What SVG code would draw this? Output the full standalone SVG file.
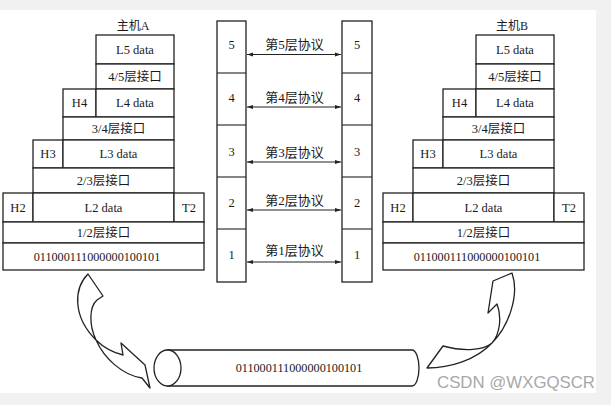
<svg xmlns="http://www.w3.org/2000/svg" width="611" height="405" viewBox="0 0 611 405">
<style>
.b{fill:#fff;stroke:#222;stroke-width:1.3}
.t{font-family:"Liberation Serif","Noto Sans CJK SC",serif;font-size:12.5px;fill:#1a1a1a;text-anchor:middle;dominant-baseline:central}
.bits{font-size:12.2px}
.p{font-size:13px}
.h{font-family:"Liberation Serif","Noto Sans CJK SC",serif;font-size:12px;fill:#1a1a1a;text-anchor:middle}
.c{fill:none;stroke:#222;stroke-width:1.1}
.sh{fill:#fff;stroke:#222;stroke-width:1.3;stroke-linejoin:round}
.wm{font-family:"Liberation Sans",Arial,sans-serif;font-size:17px;fill:#a8a8a8}
</style>
<defs>
<marker id="ah" viewBox="0 0 10 10" refX="10" refY="5" markerWidth="8" markerHeight="6" orient="auto-start-reverse" markerUnits="userSpaceOnUse">
<path d="M0,1.5 L10,5 L0,8.5 Z" fill="#222"/>
</marker>
<g id="stack">
<rect class="b" x="96" y="35" width="78" height="29"/>
<text class="t" x="135" y="50">L5 data</text>
<rect class="b" x="96" y="64" width="78" height="25"/>
<text class="t" x="135" y="76.5">4/5层接口</text>
<rect class="b" x="63" y="89" width="33" height="28"/>
<text class="t" x="79.5" y="103">H4</text>
<rect class="b" x="96" y="89" width="78" height="28"/>
<text class="t" x="135" y="103">L4 data</text>
<rect class="b" x="63" y="117" width="111" height="23"/>
<text class="t" x="118.5" y="128.5">3/4层接口</text>
<rect class="b" x="33" y="140" width="30" height="28"/>
<text class="t" x="48" y="154">H3</text>
<rect class="b" x="63" y="140" width="111" height="28"/>
<text class="t" x="118.5" y="154">L3 data</text>
<rect class="b" x="33" y="168" width="141" height="25"/>
<text class="t" x="103.5" y="180.5">2/3层接口</text>
<rect class="b" x="3" y="193" width="30" height="29"/>
<text class="t" x="18" y="207.5">H2</text>
<rect class="b" x="33" y="193" width="141" height="29"/>
<text class="t" x="103.5" y="207.5">L2 data</text>
<rect class="b" x="174" y="193" width="30" height="29"/>
<text class="t" x="189" y="207.5">T2</text>
<rect class="b" x="3" y="222" width="201" height="21"/>
<text class="t" x="103.5" y="232.5">1/2层接口</text>
<rect class="b" x="3" y="243" width="201" height="27"/>
<text class="t bits" x="97" y="256.5">011000111000000100101</text>
</g>
</defs>
<rect x="0" y="0" width="611" height="405" fill="#f1f1f1"/>
<rect x="0" y="10" width="596" height="383" fill="#fff"/>

<g id="hostA">
<text class="h" x="133" y="30">主机A</text>
<use href="#stack"/>
</g>
<g id="hostB">
<text class="h" x="512" y="30">主机B</text>
<use href="#stack" transform="translate(380,0)"/>
</g>

<g id="layersA">
<rect class="b" x="217" y="21" width="29" height="261"/>
<line class="c" x1="217" y1="73" x2="246" y2="73"/>
<line class="c" x1="217" y1="125" x2="246" y2="125"/>
<line class="c" x1="217" y1="177" x2="246" y2="177"/>
<line class="c" x1="217" y1="229" x2="246" y2="229"/>
<text class="t" x="231.5" y="45">5</text>
<text class="t" x="231.5" y="98">4</text>
<text class="t" x="231.5" y="152">3</text>
<text class="t" x="231.5" y="203">2</text>
<text class="t" x="231.5" y="255">1</text>
</g>
<g id="layersB">
<rect class="b" x="342" y="21" width="30" height="261"/>
<line class="c" x1="342" y1="73" x2="372" y2="73"/>
<line class="c" x1="342" y1="125" x2="372" y2="125"/>
<line class="c" x1="342" y1="177" x2="372" y2="177"/>
<line class="c" x1="342" y1="229" x2="372" y2="229"/>
<text class="t" x="357" y="45">5</text>
<text class="t" x="357" y="98">4</text>
<text class="t" x="357" y="152">3</text>
<text class="t" x="357" y="203">2</text>
<text class="t" x="357" y="255">1</text>
</g>

<g id="connectors">
<line class="c" x1="247" y1="54.5" x2="341" y2="54.5" marker-start="url(#ah)" marker-end="url(#ah)"/>
<line class="c" x1="247" y1="107" x2="341" y2="107" marker-start="url(#ah)" marker-end="url(#ah)"/>
<line class="c" x1="247" y1="162" x2="341" y2="162" marker-start="url(#ah)" marker-end="url(#ah)"/>
<line class="c" x1="247" y1="210" x2="341" y2="210" marker-start="url(#ah)" marker-end="url(#ah)"/>
<line class="c" x1="247" y1="262" x2="341" y2="262" marker-start="url(#ah)" marker-end="url(#ah)"/>
<text class="t p" x="294.5" y="44">第5层协议</text>
<text class="t p" x="294.5" y="97.5">第4层协议</text>
<text class="t p" x="294.5" y="152.5">第3层协议</text>
<text class="t p" x="294.5" y="200">第2层协议</text>
<text class="t p" x="294.5" y="250.5">第1层协议</text>
<path class="sh" d="M88,274 C74,288 72,316 96,340 C105,349 115,353 123,355 L121,343 L145,365 L150,388 L142,378 C122,375 104,358 96,340 C89,325 89,307 97,300 L103,296 Z"/>
<path class="sh" d="M512,273 L493,281 L488,313 L497,304 C502,317 500,334 492,343 C484,350 465,352 443,346 L427,368 C450,368 476,360 492,343 C508,327 520,296 512,273 Z"/>
</g>

<g id="cable">
<path class="b" d="M167,350 L412,350 A7,18 0 0 1 412,386 L167,386"/>
<ellipse class="b" cx="167.5" cy="368" rx="13.5" ry="18"/>
<text class="t bits" x="299" y="368">011000111000000100101</text>
</g>

<text class="wm" x="437" y="388" textLength="158" lengthAdjust="spacingAndGlyphs">CSDN @WXGQSCR</text>
</svg>
